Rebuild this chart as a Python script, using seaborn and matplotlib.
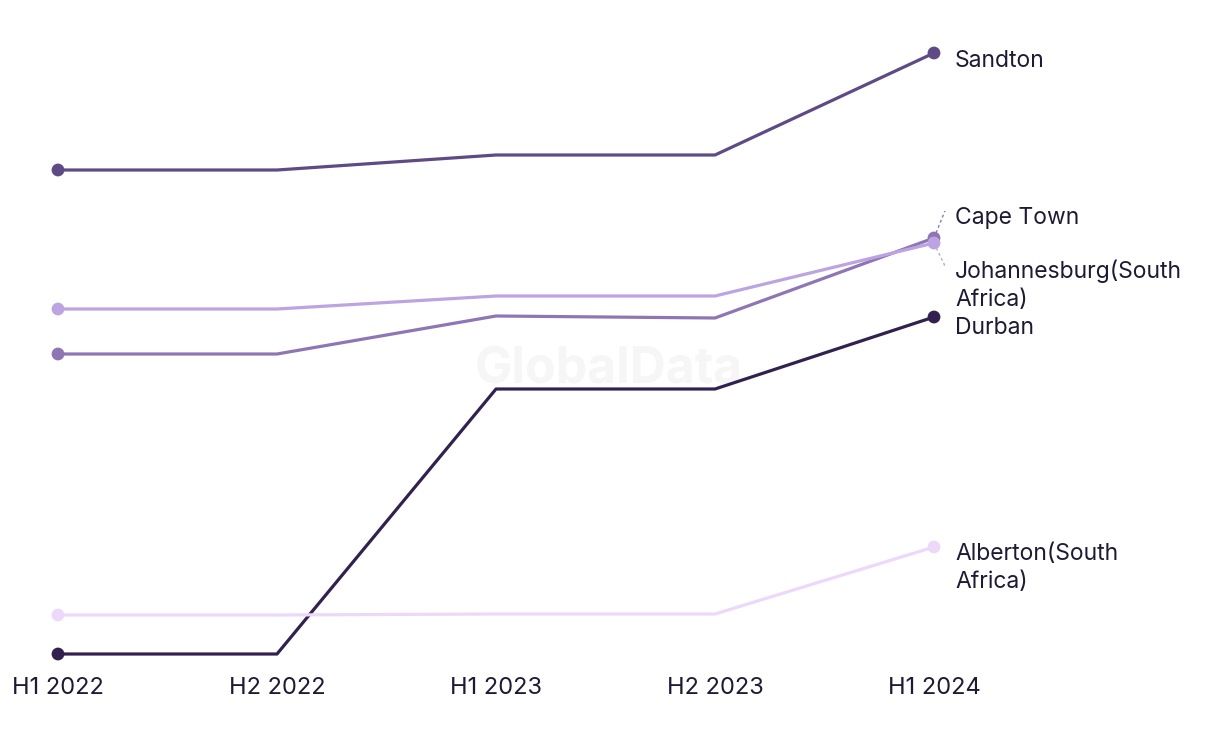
import matplotlib
matplotlib.use("Agg")
import matplotlib.pyplot as plt
import seaborn as sns
import pandas as pd

periods = ["H1 2022", "H2 2022", "H1 2023", "H2 2023", "H1 2024"]
cities = ["Sandton", "Cape Town", "Johannesburg(South\nAfrica)", "Durban", "Alberton(South\nAfrica)"]
sandton = [530, 530, 545, 545, 647]
cape_town = [346, 346, 384, 382, 462]
johannesburg = [391, 391, 404, 404, 457]
durban = [46, 46, 311, 311, 383]
alberton = [85, 85, 86, 86, 153]
colors = ["#5e4a85", "#8e76b4", "#bca4e2", "#32214f", "#ecd9f9"]

series = [sandton, cape_town, johannesburg, durban, alberton]
rows = []
for city, vals in zip(cities, series):
    for i, v in enumerate(vals):
        rows.append({"city": city, "idx": i, "value": v})
df = pd.DataFrame(rows)
ends = df[df["idx"].isin([0, len(periods) - 1])]
palette = dict(zip(cities, colors))

sns.set_style("white")
plt.rcParams["font.family"] = ["Inter", "DejaVu Sans"]

fig = plt.figure(figsize=(12.2, 7.44), dpi=100)
ax = fig.add_axes([0, 1 - 670 / 744, 1, 670 / 744])

ax.text(2.516, 330, "GlobalData", fontsize=36, fontweight="bold", color="#f6f6f6",
        ha="center", va="center", zorder=0)

sns.lineplot(data=df, x="idx", y="value", hue="city", palette=palette,
             linewidth=2.3, legend=False, ax=ax, zorder=2)
sns.scatterplot(data=ends, x="idx", y="value", hue="city", palette=palette,
                s=85, edgecolor="none", legend=False, ax=ax, zorder=3)

# labels at the right end
lx = 4.096
label_y = {"Sandton": 639, "Cape Town": 482,
           "Johannesburg(South\nAfrica)": 415, "Durban": 372,
           "Alberton(South\nAfrica)": 132}
for city in cities:
    ax.text(lx, label_y[city], city, fontsize=16.5, color="#1d1a33",
            ha="left", va="center", linespacing=1.35)

# dotted leaders for the overlapping pair
ax.plot([4.0, 4.05], [462, 489], ls=(0, (2, 2)), color="#8e76b4", lw=1)
ax.plot([4.0, 4.05], [457, 434], ls=(0, (2, 2)), color="#bca4e2", lw=1)

ax.set_xlim(-58 / 219, (1220 - 58) / 219)
ax.set_ylim(30, 700)
ax.set_xticks(range(len(periods)))
ax.set_xticklabels(periods)
ax.set_yticks([])
ax.set_xlabel("")
ax.set_ylabel("")
ax.tick_params(axis="x", length=0, pad=5, labelsize=17, labelcolor="#1d1a33")
for s in ax.spines.values():
    s.set_visible(False)

fig.savefig("out.png", dpi=100)
